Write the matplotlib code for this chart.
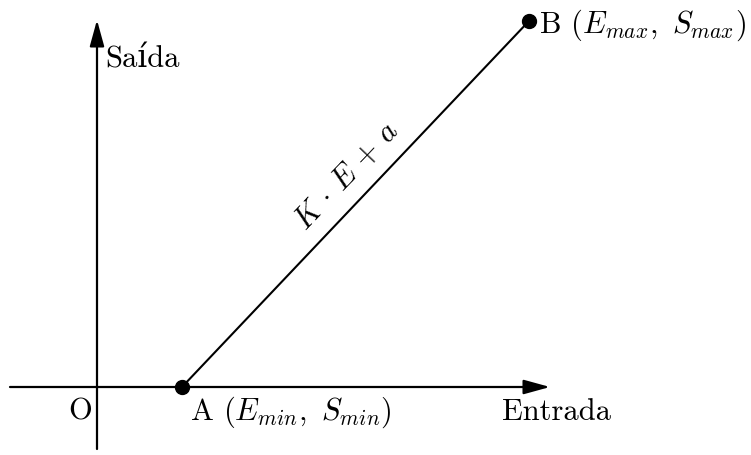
import matplotlib
matplotlib.use("Agg")
import matplotlib.pyplot as plt

plt.rcParams['mathtext.fontset'] = 'cm'
plt.rcParams['font.family'] = ['cmr10', 'DejaVu Serif']
plt.rcParams['axes.unicode_minus'] = False

# points A and B (relative to origin O)
point_names = ['A', 'B']
entrada = [85, 432]
saida = [0, 366]
point_labels = [r'A $(E_{min},\ S_{min})$', r'B $(E_{max},\ S_{max})$']

# axis extents
x_axis = [-87, 453]
y_axis = [-62, 367]

fig = plt.figure(figsize=(7.51, 4.55), dpi=100)
ax = fig.add_axes([0, 0, 1, 1])
ax.set_xlim(-97, 654)
ax.set_ylim(-68, 387)
ax.axis('off')

arrow = dict(arrowstyle='-|>,head_length=0.8,head_width=0.22', mutation_scale=20,
             lw=1.6, color='black', shrinkA=0, shrinkB=0)
ax.annotate('', xy=(x_axis[1], 0), xytext=(x_axis[0], 0), arrowprops=arrow)
ax.annotate('', xy=(0, y_axis[1]), xytext=(0, y_axis[0]), arrowprops=arrow)

# the line K*E + a
ax.plot(entrada, saida, color='black', lw=1.5, zorder=3)
ax.plot(entrada, saida, 'o', color='black', markersize=10, zorder=4)

fs = 22
ax.text(8, 319, 'Saída', fontsize=fs, ha='left', va='baseline')
ax.text(405, -33, 'Entrada', fontsize=fs, ha='left', va='baseline')
ax.text(-5, -33, 'O', fontsize=fs, ha='right', va='baseline')
ax.text(entrada[0] + 8, -33, point_labels[0], fontsize=fs, ha='left', va='baseline')
ax.text(entrada[1] + 10, 354, point_labels[1], fontsize=fs, ha='left', va='baseline')

ax.text(250, 211, r'$K\,\cdot\,E\,+\,a$', fontsize=fs, rotation=46.5,
        ha='center', va='center', rotation_mode='anchor')

fig.savefig('out.png', dpi=100)
